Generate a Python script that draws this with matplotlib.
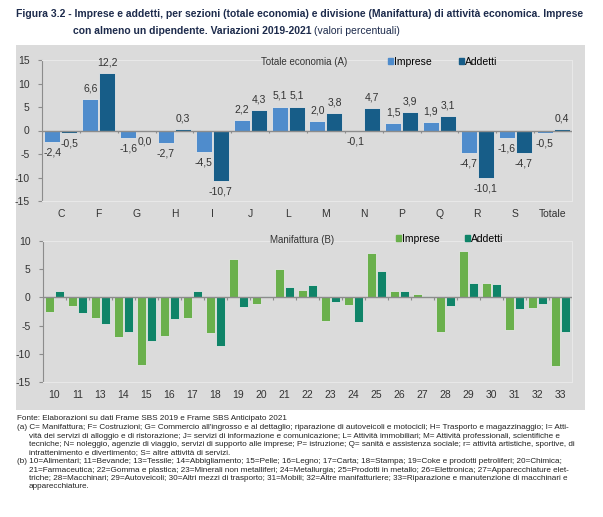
import matplotlib.pyplot as plt
from matplotlib.patches import Rectangle, Patch
import numpy as np

# dati - sezioni (totale economia)
sezioni = ["C", "F", "G", "H", "I", "J", "L", "M", "N", "P", "Q", "R", "S", "Totale"]
imprese_a = [-2.4, 6.6, -1.6, -2.7, -4.5, 2.2, 5.1, 2.0, -0.1, 1.5, 1.9, -4.7, -1.6, -0.5]
addetti_a = [-0.5, 12.2, 0.0, 0.3, -10.7, 4.3, 5.1, 3.8, 4.7, 3.9, 3.1, -10.1, -4.7, 0.4]

# dati - divisioni (manifattura)
divisioni = ["10", "11", "13", "14", "15", "16", "17", "18", "19", "20", "21", "22",
             "23", "24", "25", "26", "27", "28", "29", "30", "31", "32", "33"]
imprese_b = [-2.6, -1.5, -3.7, -7.1, -11.9, -6.9, -3.7, -6.4, 6.8, -1.2, 5.1, 1.4,
             -4.1, -1.3, 7.9, 1.1, 0.6, -6.1, 8.3, 2.5, -5.8, -1.9, -12.1]
addetti_b = [1.2, -2.8, -4.7, -6.2, -7.8, -3.8, 1.1, -8.6, -1.7, 0.2, 1.9, 2.2,
             -0.9, -4.3, 4.6, 1.2, 0.2, -1.5, 2.5, 2.4, -2.1, -1.2, -6.2]

W, H = 603, 517
plt.rcParams["font.family"] = ["Liberation Sans", "DejaVu Sans"]
plt.rcParams["axes.unicode_minus"] = False

fig = plt.figure(figsize=(W / 100, H / 100), dpi=100)
fig.patch.set_facecolor("white")
rend = fig.canvas.get_renderer()


def box(x0, y0, x1, y1):
    # da pixel (origine in alto) a coordinate figura
    return [x0 / W, 1 - y1 / H, (x1 - x0) / W, (y1 - y0) / H]


def adatta(t, larghezza):
    # riduce il corpo del testo finché non sta nella larghezza voluta (pixel)
    w = t.get_window_extent(rend).width
    t.set_fontsize(t.get_fontsize() * larghezza / w)
    return t.get_fontsize()


# pannello grigio
fig.patches.append(Rectangle((16 / W, 1 - 410 / H), (585 - 16) / W, (410 - 45) / H,
                             transform=fig.transFigure, facecolor="#dbdbdb",
                             edgecolor="none", zorder=-5))

# titolo
t1 = fig.text(16 / W, 1 - 14 / H,
              "Figura 3.2 - Imprese e addetti, per sezioni (totale economia) e divisione "
              "(Manifattura) di attività economica. Imprese",
              fontsize=9, fontweight="bold", color="#1d2b4c", va="center")
fs = adatta(t1, 567)
t2 = fig.text(73 / W, 1 - 31 / H, "con almeno un dipendente. Variazioni 2019-2021",
              fontsize=fs, fontweight="bold", color="#1d2b4c", va="center")
bb = t2.get_window_extent(rend)
fig.text((bb.x1 + 3) / W, 1 - 31 / H, "(valori percentuali)",
         fontsize=fs, color="#1d2b4c", va="center")


def pannello(ax, cats, imp, add, c_imp, c_add, ylim, yticks, width, off, etichette):
    x = np.arange(len(cats))
    ax.set_facecolor("#dbdbdb")
    ax.bar(x - off, imp, width, color=c_imp, edgecolor="#e6e6e6", linewidth=0.6, zorder=2)
    ax.bar(x + off, add, width, color=c_add, edgecolor="#e6e6e6", linewidth=0.6, zorder=2)
    ax.axhline(0, color="#8c8c8c", linewidth=1.0, zorder=3)
    tick = (ylim[1] - ylim[0]) * 0.018
    ax.vlines(np.arange(len(cats) + 1) - 0.5, -tick, 0, color="#8c8c8c", linewidth=0.8, zorder=3)
    ax.set_xlim(-0.5, len(cats) - 0.5)
    ax.set_ylim(*ylim)
    ax.set_yticks(yticks)
    ax.set_xticks(x)
    ax.set_xticklabels(cats)
    ax.tick_params(axis="x", length=0, pad=6, labelsize=7.5, colors="#333333")
    ax.tick_params(axis="y", length=3, width=0.8, color="#8c8c8c", labelsize=7.5,
                   colors="#333333", pad=6)
    for s in ["top", "right", "bottom"]:
        ax.spines[s].set_color("#e8e8e8")
        ax.spines[s].set_linewidth(0.8)
    ax.spines["left"].set_color("#8c8c8c")
    if etichette:
        for xs, vals in [(x - off, imp), (x + off, add)]:
            for xi, v in zip(xs, vals):
                txt = f"{v:.1f}".replace(".", ",")
                if v > 0:
                    ax.annotate(txt, (xi, v), xytext=(0, 4), textcoords="offset points",
                                ha="center", va="bottom", fontsize=7.5, color="#333333")
                else:
                    ax.annotate(txt, (xi, v), xytext=(0, -4), textcoords="offset points",
                                ha="center", va="top", fontsize=7.5, color="#333333")


# grafico A
ax1 = fig.add_axes(box(42, 60, 572, 201))
pannello(ax1, sezioni, imprese_a, addetti_a, "#4f8ccc", "#175d88",
         (-15, 15), [-15, -10, -5, 0, 5, 10, 15], 0.42, 0.225, True)
fig.text(304 / W, 1 - 62 / H, "Totale economia (A)", fontsize=7, color="#333333",
         ha="center", va="center")
ax1.legend(handles=[Patch(color="#4f8ccc", label="Imprese"), Patch(color="#175d88", label="Addetti")],
           loc="center left", bbox_to_anchor=((388 - 42) / 530, (201 - 62) / 141), ncol=2,
           frameon=False, handlelength=0.45, handleheight=0.45, handletextpad=0.15,
           columnspacing=2.6, fontsize=7.5, borderaxespad=0, borderpad=0)

# grafico B
ax2 = fig.add_axes(box(43, 241, 572, 382))
pannello(ax2, divisioni, imprese_b, addetti_b, "#6ab04c", "#0f8468",
         (-15, 10), [-15, -10, -5, 0, 5, 10], 0.41, 0.215, False)
fig.text(302 / W, 1 - 240 / H, "Manifattura (B)", fontsize=7, color="#333333",
         ha="center", va="center")
ax2.legend(handles=[Patch(color="#6ab04c", label="Imprese"), Patch(color="#0f8468", label="Addetti")],
           loc="center left", bbox_to_anchor=((396 - 43) / 529, (382 - 239) / 141), ncol=2,
           frameon=False, handlelength=0.45, handleheight=0.45, handletextpad=0.15,
           columnspacing=2.4, fontsize=7.5, borderaxespad=0, borderpad=0)

# note
note = [
    (17, "Fonte: Elaborazioni su dati Frame SBS 2019 e Frame SBS Anticipato 2021"),
    (17, "(a) C= Manifattura; F= Costruzioni; G= Commercio all'ingrosso e al dettaglio; riparazione di autoveicoli e motocicli; H= Trasporto e magazzinaggio; I= Atti-"),
    (29, "vità dei servizi di alloggio e di ristorazione; J= servizi di informazione e comunicazione; L= Attività immobiliari; M= Attività professionali, scientifiche e"),
    (29, "tecniche; N= noleggio, agenzie di viaggio, servizi di supporto alle imprese; P= istruzione; Q= sanità e assistenza sociale; r= attività artistiche, sportive, di"),
    (29, "intrattenimento e divertimento; S= altre attività di servizi."),
    (17, "(b) 10=Alimentari; 11=Bevande; 13=Tessile; 14=Abbigliamento; 15=Pelle; 16=Legno; 17=Carta; 18=Stampa; 19=Coke e prodotti petroliferi; 20=Chimica;"),
    (29, "21=Farmaceutica; 22=Gomma e plastica; 23=Minerali non metalliferi; 24=Metallurgia; 25=Prodotti in metallo; 26=Elettronica; 27=Apparecchiature elet-"),
    (29, "triche; 28=Macchinari; 29=Autoveicoli; 30=Altri mezzi di trasporto; 31=Mobili; 32=Altre manifatturiere; 33=Riparazione e manutenzione di macchinari e"),
    (29, "apparecchiature."),
]
testi = []
for i, (xp, riga) in enumerate(note):
    testi.append(fig.text(xp / W, 1 - (419 + i * 8.5) / H, riga, fontsize=6,
                          color="#222222", va="center"))
# corpo unico per le note, scelto sulla riga più larga
fn = min(adatta(t, 585 - t.get_position()[0] * W) for t in testi[1:4])
for t in testi:
    t.set_fontsize(fn)

fig.savefig("out.png", dpi=100)
